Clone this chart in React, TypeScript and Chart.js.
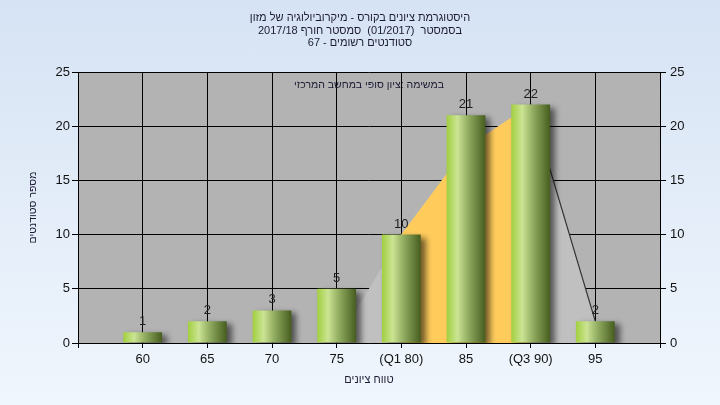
import React, { useEffect, useRef } from "react";
import { Chart, registerables } from "chart.js";

Chart.register(...registerables);

// ---------- data ----------
const categories = ["", "60", "65", "70", "75", "(Q1 80)", "85", "(Q3 90)", "95", ""];
const studentCounts = [null, 1, 2, 3, 5, 10, 21, 22, 2, null];
const distributionArea = [null, null, null, null, 0, 10, 18, 22, 2, null];
const quartileArea = [null, null, null, null, null, 10, 18, 22, null, null];
const tailLine = [null, null, null, null, null, null, null, 22, 2, null];
const yMin = 0;
const yMax = 25;
const yStep = 5;
const titleLines = [
  "היסטוגרמת ציונים בקורס - מיקרוביולוגיה של מזון",
  "בסמסטר  (01/2017)  סמסטר חורף 2017/18",
  "סטודנטים רשומים - 67",
];
const noteText = "במשימה :ציון סופי במחשב המרכזי";
const xTitle = "טווח ציונים";
const yTitle = "מספר סטודנטים";

const FONT = "'Liberation Sans', Arial, sans-serif";

const plotBgPlugin = {
  id: "plotBg",
  beforeDraw(chart: any) {
    const { ctx, chartArea } = chart;
    if (!chartArea) return;
    ctx.save();
    ctx.fillStyle = "#b3b3b3";
    ctx.fillRect(chartArea.left, chartArea.top, chartArea.right - chartArea.left, chartArea.bottom - chartArea.top);
    ctx.restore();
  },
};

const shadowPlugin = {
  id: "barShadow",
  beforeDatasetDraw(chart: any, args: any) {
    if (args.meta.type === "bar") {
      const ctx = chart.ctx;
      ctx.save();
      ctx.shadowColor = "rgba(0,0,0,0.55)";
      ctx.shadowBlur = 6;
      ctx.shadowOffsetX = 5;
      ctx.shadowOffsetY = 3;
    }
  },
  afterDatasetDraw(chart: any, args: any) {
    if (args.meta.type === "bar") {
      chart.ctx.restore();
    }
  },
};

const textPlugin = {
  id: "texts",
  afterDraw(chart: any) {
    const { ctx, chartArea } = chart;
    ctx.save();
    // title
    ctx.direction = "rtl";
    ctx.textAlign = "center";
    ctx.textBaseline = "middle";
    ctx.fillStyle = "#1b1b33";
    ctx.font = `11px ${FONT}`;
    titleLines.forEach((line, i) => {
      ctx.fillText(line, 360, 18 + i * 12.5);
    });
    // note
    ctx.font = `10.5px ${FONT}`;
    ctx.fillText(noteText, (chartArea.left + chartArea.right) / 2, 85);
    // bar value labels
    ctx.direction = "ltr";
    ctx.font = `13px ${FONT}`;
    ctx.fillStyle = "#222";
    ctx.textBaseline = "alphabetic";
    chart.data.datasets.forEach((ds: any, di: number) => {
      const meta = chart.getDatasetMeta(di);
      if (meta.type !== "bar") return;
      meta.data.forEach((el: any, i: number) => {
        const v = ds.data[i];
        if (v === null || v === undefined) return;
        ctx.fillText(String(v), el.x, el.y - 7);
      });
    });
    ctx.restore();
  },
};

export default function App() {
  const ref = useRef<HTMLCanvasElement | null>(null);

  useEffect(() => {
    if (!ref.current) return;
    const nCat = categories.length;
    const barGradient = (c: any) => {
      const chart = c.chart;
      const xs = chart.scales && chart.scales.x;
      if (!xs || c.dataIndex === undefined || xs.width === undefined) return "#9fc74a";
      const cx = xs.getPixelForValue(c.dataIndex);
      const w = (xs.width / (nCat - 1)) * 0.6;
      const x0 = cx - w / 2;
      const x1 = cx + w / 2;
      if (!isFinite(x0) || !isFinite(x1)) return "#9fc74a";
      const g = chart.ctx.createLinearGradient(x0, 0, x1, 0);
      g.addColorStop(0, "#a2cf3f");
      g.addColorStop(0.28, "#cbe494");
      g.addColorStop(0.55, "#93ad62");
      g.addColorStop(1, "#465d1e");
      return g;
    };

    const chart = new Chart(ref.current, {
      data: {
        labels: categories,
        datasets: [
          {
            type: "bar",
            data: studentCounts,
            backgroundColor: barGradient,
            borderWidth: 0,
            barPercentage: 0.6,
            categoryPercentage: 1,
            order: 0,
          },
          {
            type: "line",
            data: tailLine,
            borderColor: "#333333",
            borderWidth: 1.2,
            pointRadius: 0,
            fill: false,
            tension: 0,
            order: 1,
          },
          {
            type: "line",
            data: quartileArea,
            borderWidth: 0,
            backgroundColor: "#ffcc5c",
            pointRadius: 0,
            fill: "origin",
            tension: 0,
            order: 2,
          },
          {
            type: "line",
            data: distributionArea,
            borderWidth: 0,
            backgroundColor: "#c0c0c0",
            pointRadius: 0,
            fill: "origin",
            tension: 0,
            order: 3,
          },
        ] as any,
      },
      options: {
        responsive: false,
        animation: false,
        devicePixelRatio: 1,
        layout: { padding: { top: 72, left: 0, right: 0, bottom: 0 } },
        plugins: {
          legend: { display: false },
          tooltip: { enabled: false },
          title: { display: false },
        },
        scales: {
          x: {
            type: "category",
            offset: false,
            grid: { offset: false, color: "#000", lineWidth: 1, tickLength: 5, tickColor: "#000" },
            border: { display: true, color: "#000" },
            ticks: {
              color: "#111",
              font: { family: FONT, size: 13 },
              padding: 4,
              maxRotation: 0,
              autoSkip: false,
            },
            title: {
              display: true,
              text: xTitle,
              color: "#1b1b33",
              font: { family: FONT, size: 11 },
              padding: { top: 0, bottom: 18 },
            },
            afterFit(scale: any) {
              scale.height = 62;
            },
          },
          y: {
            position: "left",
            min: yMin,
            max: yMax,
            ticks: { stepSize: yStep, color: "#111", font: { family: FONT, size: 13 }, padding: 2 },
            grid: { color: "#000", lineWidth: 1, tickLength: 6, tickColor: "#000" },
            border: { display: true, color: "#000" },
            title: {
              display: true,
              text: yTitle,
              color: "#1b1b33",
              font: { family: FONT, size: 10.5 },
              padding: { top: 27, bottom: 0 },
            },
            afterFit(scale: any) {
              scale.width = 78;
            },
          },
          yRight: {
            position: "right",
            min: yMin,
            max: yMax,
            ticks: { stepSize: yStep, color: "#111", font: { family: FONT, size: 13 }, padding: 4 },
            grid: { drawOnChartArea: false, tickLength: 6, tickColor: "#000" },
            border: { display: true, color: "#000" },
            afterFit(scale: any) {
              scale.width = 60;
            },
          },
        },
      } as any,
      plugins: [plotBgPlugin, shadowPlugin, textPlugin],
    });
    return () => chart.destroy();
  }, []);

  return (
    <div
      style={{
        position: "fixed",
        left: 0,
        top: 0,
        width: 720,
        height: 405,
        background: "linear-gradient(#d6e3f4, #f0f6fd)",
      }}
    >
      <canvas ref={ref} width={720} height={405} style={{ display: "block" }} />
    </div>
  );
}
